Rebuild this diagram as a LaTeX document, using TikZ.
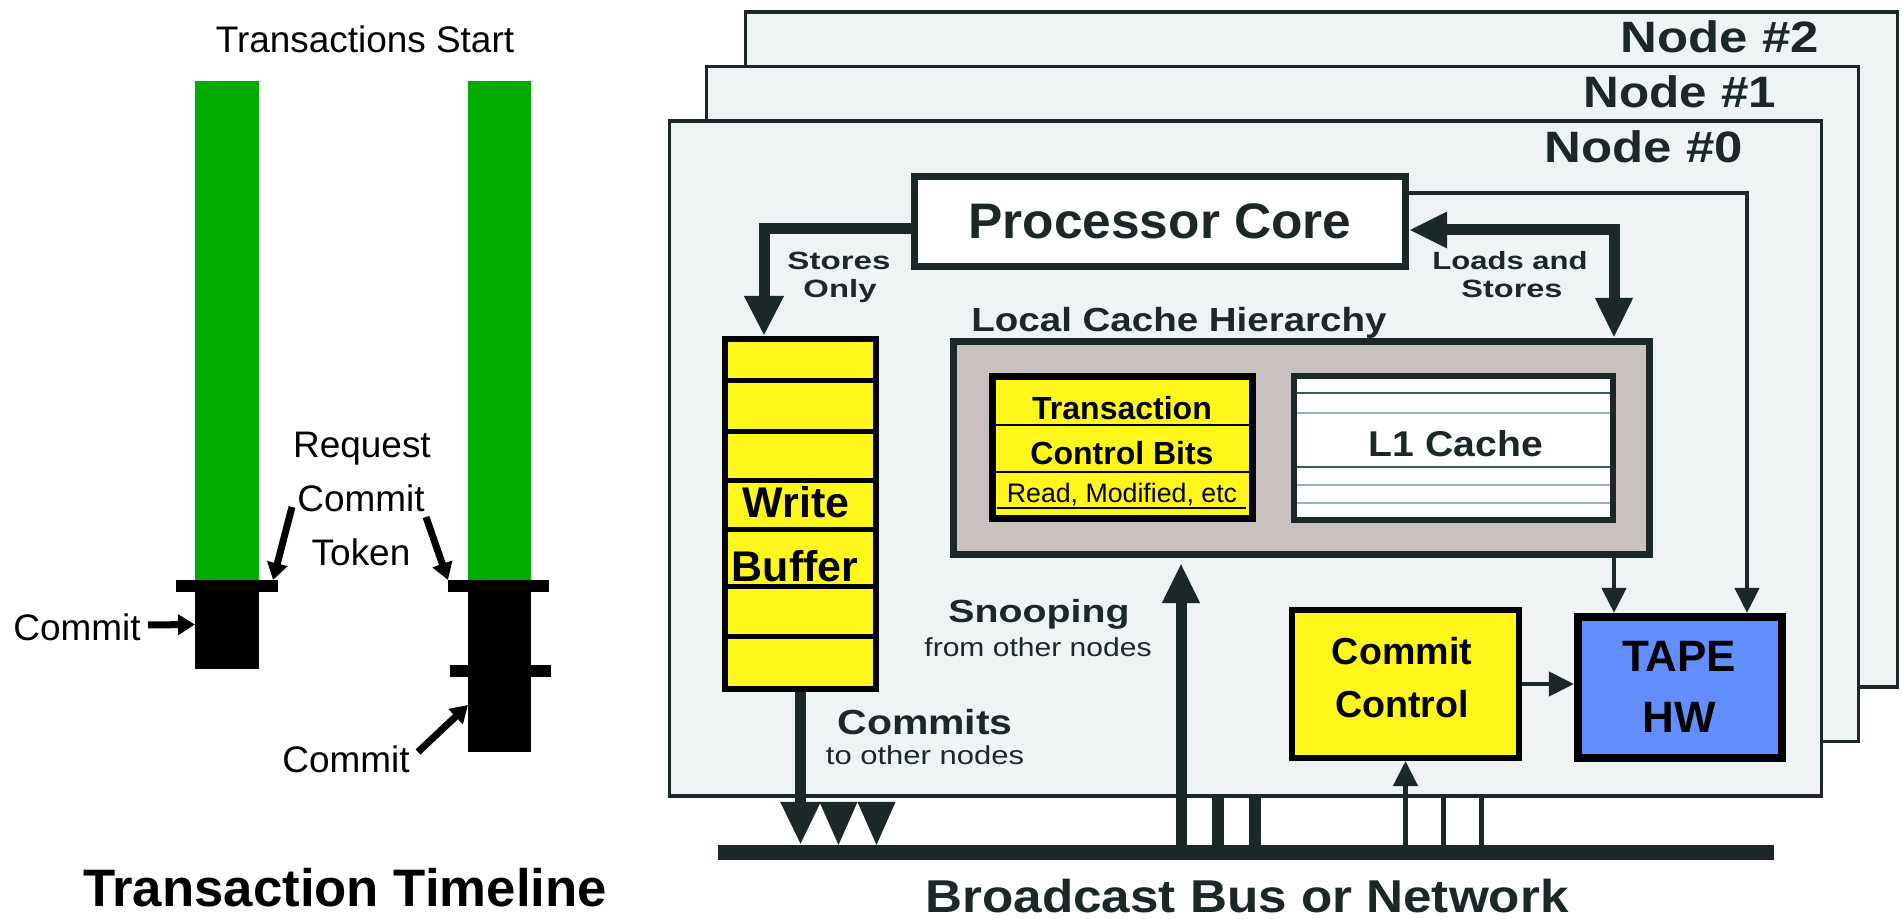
\documentclass[tikz,border=0pt]{standalone}
\usepackage{fontspec}
\setmainfont{Liberation Sans}
\usepackage{graphicx}
\usetikzlibrary{arrows.meta,calc}

\definecolor{ink}{RGB}{28,40,40}
\definecolor{panel}{RGB}{240,243,244}
\definecolor{cachegray}{RGB}{200,193,191}
\definecolor{tyellow}{RGB}{255,247,28}
\definecolor{tapeblue}{RGB}{98,142,255}
\definecolor{tgreen}{RGB}{0,172,0}
\definecolor{lonedark}{RGB}{60,88,94}
\definecolor{lonelight}{RGB}{150,180,188}

% stretch a label horizontally to a given width, keeping its height
\newcommand{\fitw}[2]{\resizebox{#1}{\height}{#2}}
\newcommand{\fs}[1]{\fontsize{#1}{#1}\selectfont}

\begin{document}
\begin{tikzpicture}[x=0.01cm,y=-0.01cm,
  bar/.style={inner sep=0pt,outer sep=0pt,draw=none},
  frame/.style={draw=ink,fill=panel,line width=1pt,inner sep=0pt,
    minimum width=11.515cm,minimum height=6.745cm},
  lt/.style={inner sep=0pt,anchor=base,font=\fs{10.5}},
  fig/.style={inner sep=0pt,anchor=base,text=ink},
  yb/.style={inner sep=0pt,anchor=base,text=black},
  tarrow/.style={draw=black,line width=0.07cm,-{Triangle[length=0.17cm,width=0.20cm]}},
  fat/.style={draw=ink,line width=0.11cm,line join=miter},
  bighead/.style={-{Triangle[length=0.40cm,width=0.37cm]}},
  wire/.style={draw=ink,line width=0.045cm,line join=miter,-{Triangle[length=0.25cm,width=0.24cm]}}]

\useasboundingbox (0,0) rectangle (1902,919);
\fill[white] (0,0) rectangle (1902,919);

% ---------------- transaction timeline ----------------
\node[bar,fill=tgreen,minimum width=0.64cm,minimum height=4.99cm] (gl) at (227,330.5) {};
\node[bar,fill=black,minimum width=0.64cm,minimum height=0.89cm] (bl) at (227,624.5) {};
\node[bar,fill=black,minimum width=1.02cm,minimum height=0.12cm] (cl) at (227,586) {};
\node[bar,fill=tgreen,minimum width=0.63cm,minimum height=4.99cm] (gr) at (499.5,330.5) {};
\node[bar,fill=black,minimum width=0.63cm,minimum height=1.72cm] (br) at (499.5,666) {};
\node[bar,fill=black,minimum width=1.01cm,minimum height=0.12cm] (cr1) at (498.5,586) {};
\node[bar,fill=black,minimum width=1.01cm,minimum height=0.12cm] (cr2) at (500.5,671) {};

\node[lt] (tstart) at (365,53) {Transactions Start};
\node[lt] (rq1) at (362,458) {Request};
\node[lt] (rq2) at (361,512) {Commit};
\node[lt] (rq3) at (361,566) {Token};
\node[lt] (cleft) at (77,641) {Commit};
\node[lt] (clow) at (346,773) {Commit};
\node[inner sep=0pt,anchor=base,font=\fs{15}\bfseries] (ttl) at (345,907) {Transaction Timeline};

\coordinate (ra) at (292,507);
\coordinate (rb) at (426,517);
\coordinate (ca) at (148,625);
\coordinate (cb) at (418,752);
\draw[tarrow] (ra) -- ($(cl.north east)+(-5,0)$);
\draw[tarrow] (rb) -- (cr1.north west);
\draw[tarrow] (ca) -- (bl.west);
\draw[tarrow] (cb) -- ($(br.west)+(0,39)$);

% ---------------- node stack ----------------
\node[frame] (n2) at (1321.5,349.5) {};
\node[frame] (n1) at (1282.5,404) {};
\node[frame] (n0) at (1245.5,458.5) {};

\node[fig,font=\fs{12.5}\bfseries] (lab2) at (1720,53) {\fitw{1.98cm}{Node \#2}};
\node[fig,font=\fs{12.5}\bfseries] (lab1) at (1680,108) {\fitw{1.92cm}{Node \#1}};
\node[fig,font=\fs{12.5}\bfseries] (lab0) at (1644,163) {\fitw{1.98cm}{Node \#0}};

\node[draw=ink,line width=2pt,fill=white,minimum width=4.91cm,minimum height=0.90cm,
  inner sep=0pt,text=ink,font=\fs{14.2}\bfseries] (proc) at (1160,221.5) {\fitw{3.83cm}{Processor Core}};

% write buffer
\node[draw=black,line width=1.7pt,fill=tyellow,minimum width=1.51cm,minimum height=3.50cm,inner sep=0pt] (wb) at (800.5,514) {};
\foreach \yy in {381,432,481,530,587,637}
  \draw[black,line width=0.05cm] (722,\yy) -- (879,\yy);
\node[yb,font=\fs{12.2}\bfseries] (wb1) at (796,518) {Write};
\node[yb,font=\fs{12.2}\bfseries] (wb2) at (795,582) {Buffer};

% local cache hierarchy
\node[fig,font=\fs{9.5}\bfseries] (lch) at (1179,332) {\fitw{4.15cm}{Local Cache Hierarchy}};
\node[draw=ink,line width=2pt,fill=cachegray,minimum width=6.96cm,minimum height=2.13cm,inner sep=0pt] (cache) at (1301.5,448) {};

\node[draw=black,line width=2pt,fill=tyellow,minimum width=2.60cm,minimum height=1.42cm,inner sep=0pt] (tcb) at (1122.5,447.5) {};
\draw[black,line width=0.6pt] (996,425) -- (1249,425);
\draw[black,line width=0.6pt] (996,472) -- (1249,472);
\draw[black,line width=0.6pt] (997,508) -- (1246,508);
\node[yb,font=\fs{9.1}\bfseries] (tr1) at (1122,420) {Transaction};
\node[yb,font=\fs{9.1}\bfseries] (tr2) at (1122,465) {Control Bits};
\node[yb,font=\fs{7.6}] (tr3) at (1122,503) {Read, Modified, etc};

\node[draw=ink,line width=1.7pt,fill=white,minimum width=3.19cm,minimum height=1.44cm,inner sep=0pt] (l1) at (1453.5,448) {};
\foreach \yy in {393,467}
  \draw[lonedark,line width=0.6pt] (1297,\yy) -- (1610,\yy);
\foreach \yy in {413,485,503}
  \draw[lonelight,line width=0.6pt] (1297,\yy) -- (1610,\yy);
\node[fig,font=\fs{10.2}\bfseries] (l1t) at (1456,457) {\fitw{1.74cm}{L1 Cache}};

% commit control and TAPE
\node[draw=black,line width=1.7pt,fill=tyellow,minimum width=2.27cm,minimum height=1.48cm,inner sep=0pt] (cc) at (1405.5,684) {};
\node[yb,font=\fs{10.7}\bfseries] (cc1) at (1402,665) {Commit};
\node[yb,font=\fs{10.7}\bfseries] (cc2) at (1402,718) {Control};
\node[draw=black,line width=2.3pt,fill=tapeblue,minimum width=2.04cm,minimum height=1.41cm,inner sep=0pt] (tape) at (1680,687.5) {};
\node[yb,font=\fs{12.5}\bfseries] (tp1) at (1679,672) {TAPE};
\node[yb,font=\fs{12.5}\bfseries] (tp2) at (1679,733) {HW};

% arrow labels
\node[fig,font=\fs{7.1}\bfseries] (so1) at (839,270) {\fitw{1.03cm}{Stores}};
\node[fig,font=\fs{7.1}\bfseries] (so2) at (840,298) {\fitw{0.73cm}{Only}};
\node[fig,font=\fs{7.1}\bfseries] (ls1) at (1510,270) {\fitw{1.55cm}{Loads and}};
\node[fig,font=\fs{7.1}\bfseries] (ls2) at (1512,298) {\fitw{1.01cm}{Stores}};
\node[fig,font=\fs{9.1}\bfseries] (snp1) at (1039,623) {\fitw{1.81cm}{Snooping}};
\node[fig,font=\fs{7.4}] (snp2) at (1038,657) {\fitw{2.27cm}{from other nodes}};
\node[fig,font=\fs{9.9}\bfseries] (cmt1) at (925,735) {\fitw{1.75cm}{Commits}};
\node[fig,font=\fs{7.4}] (cmt2) at (925,765) {\fitw{1.98cm}{to other nodes}};

% broadcast bus
\node[bar,fill=ink,minimum width=10.56cm,minimum height=0.15cm] (bus) at (1246,852.5) {};
\node[fig,font=\fs{13.1}\bfseries] (bbn) at (1247,913) {\fitw{6.43cm}{Broadcast Bus or Network}};

% connectors
\coordinate (sw) at (764,229);
\coordinate (lw) at (1614,230);
\coordinate (tw) at (1747,193);
\coordinate (sn) at (1181,0);
\draw[fat,bighead] (proc.west |- sw) -| (sw |- wb.north);
\draw[fat,{Triangle[length=0.38cm,width=0.34cm]}-{Triangle[length=0.40cm,width=0.35cm]}]
  (proc.east |- lw) -| (lw |- cache.north);
\draw[wire] (proc.east |- tw) -| (tw |- tape.north);
\draw[wire] (lw |- cache.south) -- (lw |- tape.north);
\draw[wire] (cc.east) -- (cc.east -| tape.west);
\draw[wire] (cc.south |- bus.north) -- (cc.south);
\draw[fat,-{Triangle[length=0.40cm,width=0.35cm]},shorten >=0.05cm] (sn |- bus.north) -- (sn |- cache.south);
\draw[fat,-{Triangle[length=0.43cm,width=0.37cm]}] (wb.south) -- (wb.south |- bus.north);
\foreach \dx in {38,76}
  \fill[ink] ($(wb.south |- bus.north)+(\dx-19,-43)$) -- ++(38,0) -- ++(-19,43) -- cycle;
\foreach \xx in {1218,1255} {
  \path (\xx,0) coordinate (st);
  \draw[ink,line width=0.12cm] (st |- n0.south) -- (st |- bus.north);
}
\foreach \xx in {1443,1481} {
  \path (\xx,0) coordinate (st);
  \draw[ink,line width=0.05cm] (st |- n0.south) -- (st |- bus.north);
}
\end{tikzpicture}
\end{document}
